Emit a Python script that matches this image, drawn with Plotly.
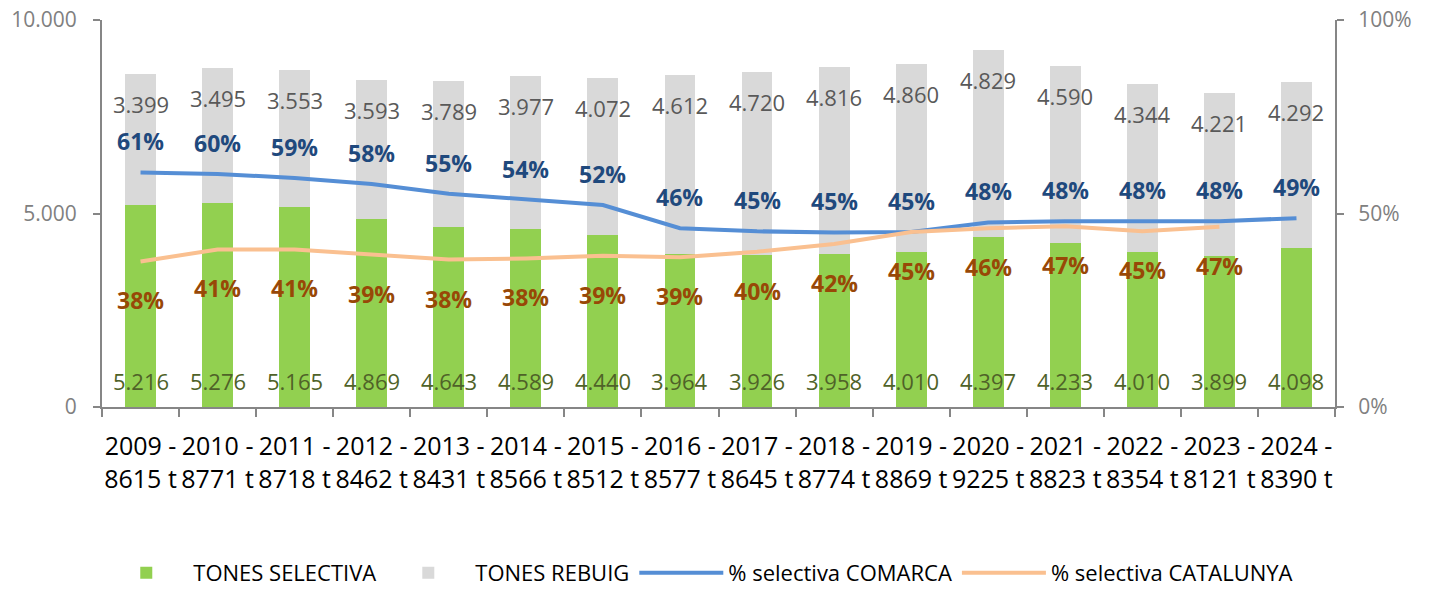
import plotly.graph_objects as go

years = ["2009", "2010", "2011", "2012", "2013", "2014", "2015", "2016",
         "2017", "2018", "2019", "2020", "2021", "2022", "2023", "2024"]
total_labels = [8615, 8771, 8718, 8462, 8431, 8566, 8512, 8577,
                8645, 8774, 8869, 9225, 8823, 8354, 8121, 8390]
tones_selectiva = [5216, 5276, 5165, 4869, 4643, 4589, 4440, 3964,
                   3926, 3958, 4010, 4397, 4233, 4010, 3899, 4098]
tones_rebuig = [3399, 3495, 3553, 3593, 3789, 3977, 4072, 4612,
                4720, 4816, 4860, 4829, 4590, 4344, 4221, 4292]
pct_comarca = [0.606, 0.602, 0.592, 0.576, 0.551, 0.536, 0.522, 0.462,
               0.454, 0.451, 0.452, 0.477, 0.480, 0.480, 0.480, 0.488]
pct_catalunya = [0.376, 0.407, 0.407, 0.394, 0.381, 0.384, 0.391, 0.387,
                 0.401, 0.421, 0.452, 0.462, 0.467, 0.454, 0.466]

# category names = the two-line axis labels
cats = [f"{y} -<br>{t} t" for y, t in zip(years, total_labels)]

FONT = "Open Sans"
C_GREEN = "#92D050"
C_GRAY = "#D9D9D9"
C_BLUE = "#558ED5"
C_ORANGE = "#FAC090"
AXIS = "#868686"


def fmt(v):
    return f"{v:,}".replace(",", ".")


fig = go.Figure()
fig.add_trace(go.Bar(x=cats, y=tones_selectiva, name="TONES SELECTIVA",
                     marker=dict(color=C_GREEN, line=dict(width=0)),
                     hoverinfo="skip"))
fig.add_trace(go.Bar(x=cats, y=tones_rebuig, name="TONES REBUIG",
                     marker=dict(color=C_GRAY, line=dict(width=0)),
                     hoverinfo="skip"))
fig.add_trace(go.Scatter(x=cats, y=pct_comarca, name="% selectiva COMARCA",
                         mode="lines", line=dict(color=C_BLUE, width=4),
                         yaxis="y2"))
fig.add_trace(go.Scatter(x=cats[:len(pct_catalunya)], y=pct_catalunya,
                         name="% selectiva CATALUNYA", mode="lines",
                         line=dict(color=C_ORANGE, width=4), yaxis="y2"))

annotations = []
for c, s, r in zip(cats, tones_selectiva, tones_rebuig):
    annotations.append(dict(x=c, y=0, xref="x", yref="y", text=fmt(s),
                            showarrow=False, yshift=26,
                            font=dict(family=FONT, size=22, color="#4F6228")))
    annotations.append(dict(x=c, y=s + r, xref="x", yref="y", text=fmt(r),
                            showarrow=False, yshift=-30,
                            font=dict(family=FONT, size=22, color="#595959")))
for c, p in zip(cats, pct_comarca):
    annotations.append(dict(x=c, y=p, xref="x", yref="y2", text=f"{p:.0%}",
                            showarrow=False, yshift=31,
                            font=dict(family=FONT, size=23, color="#1F497D",
                                      weight="bold")))
for c, p in zip(cats, pct_catalunya):
    annotations.append(dict(x=c, y=p, xref="x", yref="y2", text=f"{p:.0%}",
                            showarrow=False, yshift=-39,
                            font=dict(family=FONT, size=23, color="#984807",
                                      weight="bold")))

fig.update_layout(
    width=1430, height=589,
    margin=dict(l=102, r=95, t=20, b=182, autoexpand=False),
    paper_bgcolor="white", plot_bgcolor="white",
    barmode="stack", bargap=0.6,
    separators=",.",
    font=dict(family=FONT, size=21, color="#000000"),
    showlegend=True,
    legend=dict(orientation="h", x=0.484, xanchor="center", y=-0.429,
                yanchor="middle", font=dict(family=FONT, size=22, color="#000000"),
                traceorder="normal", itemwidth=84),
    xaxis=dict(type="category", tickson="boundaries", ticks="outside",
               ticklen=8, tickwidth=2, tickcolor=AXIS,
               showline=True, linecolor=AXIS, linewidth=2,
               showgrid=False, zeroline=False, automargin=False,
               tickangle=0, ticklabelstandoff=16,
               tickfont=dict(family=FONT, size=25, color="#000000")),
    yaxis=dict(range=[0, 10000], tickvals=[0, 5000, 10000],
               tickformat=",d", ticks="outside", ticklen=7, tickwidth=2,
               tickcolor=AXIS, showline=True, linecolor=AXIS, linewidth=2,
               showgrid=False, zeroline=False, automargin=False,
               ticklabelstandoff=12,
               tickfont=dict(family=FONT, size=21, color="#808080")),
    yaxis2=dict(range=[0, 1], tickvals=[0, 0.5, 1], tickformat=".0%",
                overlaying="y", side="right", ticks="outside", ticklen=7,
                tickwidth=2, tickcolor=AXIS, showline=True, linecolor=AXIS,
                linewidth=2, showgrid=False, zeroline=False, automargin=False,
                ticklabelstandoff=10,
                tickfont=dict(family=FONT, size=21, color="#808080")),
    annotations=annotations,
)

fig.write_html("out.html", config={"displayModeBar": False},
               post_script="document.body.style.margin='0';document.body.style.overflow='hidden';")
